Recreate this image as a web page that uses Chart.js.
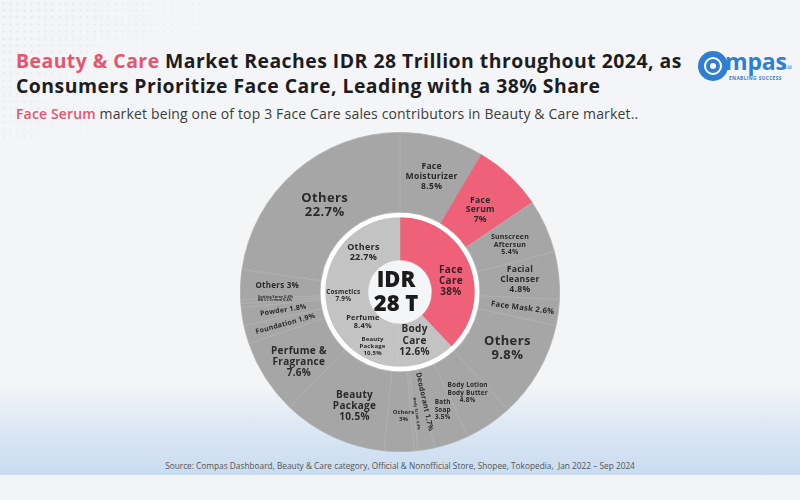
<!DOCTYPE html>
<html>
<head>
<meta charset="utf-8">
<script src="https://cdn.jsdelivr.net/npm/chart.js@4.4.0/dist/chart.umd.min.js"></script>
<style>
  html, body { margin: 0; padding: 0; }
  body { width: 800px; height: 500px; position: relative; overflow: hidden; background: #f4f5f7; font-family: "Open Sans", sans-serif; }
  .dots { position: absolute; left: 0; top: 0; width: 260px; height: 140px;
    background-image: radial-gradient(#e3e6ea 1px, transparent 1.3px); background-size: 7px 7px;
    -webkit-mask-image: linear-gradient(135deg, rgba(0,0,0,0.9), rgba(0,0,0,0) 70%); }
  .band { position: absolute; left: 0; top: 385px; width: 800px; height: 90px;
    background: linear-gradient(to bottom, rgba(205,223,242,0) 0%, rgba(205,223,242,0.7) 55%, #c9dcf0 100%); }
  .foot { position: absolute; left: 0; top: 475px; width: 800px; height: 25px; background: #f2f3f5; }
  .title { position: absolute; left: 16px; top: 48px; font-weight: 700; font-size: 19.4px; letter-spacing: 0.48px; line-height: 25px; color: #1d1d1f; white-space: nowrap; }
  .sub { position: absolute; left: 16px; top: 104px; font-size: 14px; letter-spacing: 0.15px; color: #3c3c3c; white-space: nowrap; }
  .pink { color: #e8546d; }
  .sub .pink { font-weight: 600; }
  .src { position: absolute; left: 0; width: 800px; top: 460px; text-align: center; font-size: 8.3px; color: #555; }
  #wrap { position: absolute; left: 240px; top: 132px; width: 320px; height: 320px; }
  .logo { position: absolute; left: 696px; top: 48px; width: 100px; height: 36px; }
  .logo .ic { position: absolute; left: 2px; top: 3px; width: 30px; height: 30px; border-radius: 50%; background: #2e7fd4; }
  .logo .ic::before { content: ""; position: absolute; left: 6px; top: 6px; width: 14px; height: 14px; border: 2px solid #fff; border-radius: 50%; }
  .logo .ic::after { content: ""; position: absolute; left: 12px; top: 12px; width: 6px; height: 6px; background: #fff; border-radius: 50%; }
  .logo .tx { position: absolute; left: 29px; top: -3px; font: 700 23px "Open Sans", sans-serif; color: #2e7fd4; letter-spacing: -0.2px; }
  .logo .co { position: absolute; left: 84px; top: 16px; font: 600 4.5px "Open Sans", sans-serif; color: #2e7fd4; }
  .logo .es { position: absolute; left: 33px; top: 27px; font: 700 4.8px "Open Sans", sans-serif; color: #2e7fd4; letter-spacing: 0.4px; }
</style>
</head>
<body>
<div class="dots"></div>
<div class="band"></div>
<div class="foot"></div>
<div class="title"><span class="pink">Beauty &amp; Care</span> Market Reaches IDR 28 Trillion throughout 2024, as<br>Consumers Prioritize Face Care, Leading with a 38% Share</div>
<div class="sub"><span class="pink">Face Serum</span> market being one of top 3 Face Care sales contributors in Beauty &amp; Care market..</div>
<div class="logo"><div class="ic"></div><div class="tx">mpas</div><div class="co">.co.id</div><div class="es">ENABLING SUCCESS</div></div>
<div id="wrap"><canvas id="donut" width="320" height="320"></canvas></div>
<div class="src">Source: Compas Dashboard, Beauty &amp; Care category, Official &amp; Nonofficial Store, Shopee, Tokopedia,&nbsp; Jan 2022 – Sep 2024</div>

<script>
// inner ring: main categories (% of IDR 28 T)
const innerLabels = ['Face Care', 'Body Care', 'Beauty Package', 'Perfume', 'Cosmetics', 'Others'];
const innerShares = [38, 12.6, 10.5, 8.4, 7.9, 22.7];

// outer ring: sub categories, same order (clockwise from top)
const outerLabels = ['Face Moisturizer', 'Face Serum', 'Sunscreen Aftersun', 'Facial Cleanser', 'Face Mask', 'Others',
  'Body Lotion Body Butter', 'Bath Soap', 'Deodorant', 'Body Scrub', 'Others',
  'Beauty Package', 'Perfume & Fragrance',
  'Foundation', 'Powder', 'BB CC Cream', 'Setting Spray', 'Others',
  'Others'];
const outerShares = [8.5, 7, 5.4, 4.8, 2.6, 9.8,
  4.8, 3.5, 1.7, 0.4, 3,
  10.5, 7.6,
  1.9, 1.8, 0.4, 0.4, 3,
  22.7];

const centerText = ['IDR', '28 T'];

const PINK = '#ef6179';
const GREY = '#a6a6a6';
const SEAM = '#b0b0b0';
const LIGHT = '#c3c3c3';

// label look per slice: size, position across ring (0..1), angle nudge (deg), words per line (0 = one line), radial text
const outerLook = [
  {size: 8.6, f: 0.50, da: 0,  wrap: 1},
  {size: 8.6, f: 0.44, da: 1,  wrap: 1},
  {size: 7,   f: 0.50, da: 1,  wrap: 1},
  {size: 8.6, f: 0.51, da: 0,  wrap: 1},
  {size: 7.8, f: 0.55, da: 0,  wrap: 0, radial: true},
  {size: 13,  f: 0.52, da: -2, wrap: 1},
  {size: 6.4, f: 0.52, da: 0,  wrap: 2},
  {size: 6.4, f: 0.57, da: -1, wrap: 1},
  {size: 7.2, f: 0.41, da: -3, wrap: 0, radial: true},
  {size: 3.8, f: 0.54, da: -2, wrap: 0, radial: true},
  {size: 6,   f: 0.55, da: -2, wrap: 1},
  {size: 10,  f: 0.54, da: -3, wrap: 1},
  {size: 10,  f: 0.54, da: -2, wrap: 2},
  {size: 7,   f: 0.49, da: 0,  wrap: 0, radial: true},
  {size: 7,   f: 0.48, da: 0,  wrap: 0, radial: true},
  {size: 3.6, f: 0.57, da: 1,  wrap: 0},
  {size: 3.6, f: 0.56, da: 1,  wrap: 0},
  {size: 8,   f: 0.54, da: 0,  wrap: 0},
  {size: 13,  f: 0.44, da: 0,  wrap: 1}
];
const innerLook = [
  {size: 10,  f: 0.47, da: 9.5, wrap: 1, color: '#3a1e25'},
  {size: 10,  f: 0.44, da: 4,  wrap: 1},
  {size: 6,   f: 0.67, da: 6,  wrap: 1},
  {size: 7.4, f: 0.37, da: -4, wrap: 1},
  {size: 6.4, f: 0.58, da: 2,  wrap: 1},
  {size: 9,   f: 0.51, da: -2, wrap: 1}
];

function labelLines(name, value, wrap) {
  const pct = value + '%';
  if (!wrap) return [name + ' ' + pct];
  const words = name.split(' ');
  const lines = [];
  for (let i = 0; i < words.length; i += wrap) lines.push(words.slice(i, i + wrap).join(' '));
  lines.push(pct);
  return lines;
}

function drawRing(ctx, meta, names, values, looks) {
  meta.data.forEach((arc, i) => {
    const p = arc.getProps(['x', 'y', 'startAngle', 'endAngle', 'innerRadius', 'outerRadius'], true);
    const look = looks[i];
    const a = (p.startAngle + p.endAngle) / 2 + look.da * Math.PI / 180;
    const r = p.innerRadius + (p.outerRadius - p.innerRadius) * look.f;
    const lines = labelLines(names[i], values[i], look.wrap);
    const lh = look.size * 1.12;
    ctx.save();
    ctx.translate(p.x + Math.cos(a) * r, p.y + Math.sin(a) * r);
    if (look.radial) {
      let rot = a;
      if (Math.cos(a) < 0) rot += Math.PI;
      ctx.rotate(rot);
    }
    ctx.fillStyle = look.color || '#2a2a2a';
    ctx.font = '700 ' + look.size + 'px "Open Sans", sans-serif';
    ctx.letterSpacing = (look.size * 0.03).toFixed(2) + 'px';
    ctx.textAlign = 'center';
    ctx.textBaseline = 'middle';
    lines.forEach((t, k) => ctx.fillText(t, 0, (k - (lines.length - 1) / 2) * lh));
    ctx.restore();
  });
}

const sliceLabels = {
  id: 'sliceLabels',
  afterDatasetsDraw(chart) {
    const ctx = chart.ctx;
    drawRing(ctx, chart.getDatasetMeta(0), outerLabels, outerShares, outerLook);
    drawRing(ctx, chart.getDatasetMeta(2), innerLabels, innerShares, innerLook);
    const c = chart.getDatasetMeta(2).data[0];
    ctx.save();
    ctx.fillStyle = '#1b1b1b';
    ctx.font = '800 22px "Open Sans", sans-serif';
    ctx.textAlign = 'center';
    ctx.textBaseline = 'middle';
    ctx.fillText(centerText[0], c.x - 4, c.y - 11);
    ctx.fillText(centerText[1], c.x - 4, c.y + 13);
    ctx.restore();
  }
};

new Chart(document.getElementById('donut'), {
  type: 'doughnut',
  data: {
    labels: outerLabels,
    datasets: [{
      data: outerShares,
      backgroundColor: outerLabels.map((l, i) => i === 1 ? PINK : GREY),
      borderColor: outerLabels.map((l, i) => i === 1 ? PINK : SEAM),
      borderWidth: 0.8,
      weight: 80
    }, {
      data: [1],
      backgroundColor: ['#ffffff'],
      borderWidth: 0,
      weight: 5
    }, {
      data: innerShares,
      backgroundColor: innerLabels.map((l, i) => i === 0 ? PINK : LIGHT),
      borderColor: innerLabels.map((l, i) => i === 0 ? PINK : LIGHT),
      borderWidth: 0.5,
      weight: 43
    }]
  },
  options: {
    responsive: false,
    animation: false,
    cutout: 32,
    layout: { padding: 0 },
    plugins: { legend: { display: false }, tooltip: { enabled: false } }
  },
  plugins: [sliceLabels]
});
</script>
</body>
</html>
